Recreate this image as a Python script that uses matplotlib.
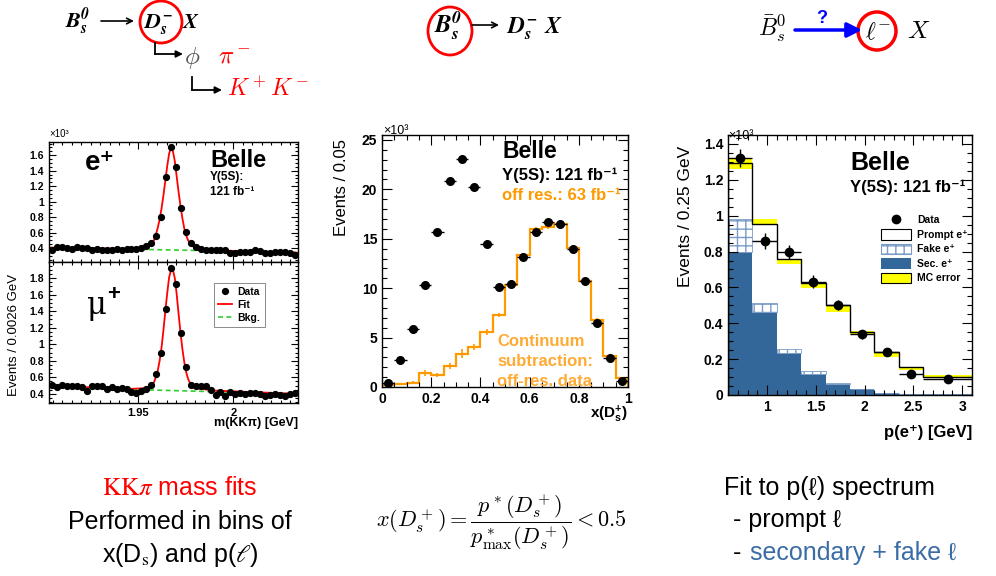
import numpy as np
import matplotlib
matplotlib.use('Agg')
from matplotlib import pyplot as plt
from matplotlib.patches import Ellipse, Patch
from matplotlib.lines import Line2D
from matplotlib.ticker import MultipleLocator, FormatStrFormatter

plt.rcParams['font.family'] = ['Liberation Sans', 'DejaVu Sans']
plt.rcParams['mathtext.fontset'] = 'custom'
plt.rcParams['mathtext.rm'] = 'Liberation Sans:bold'
plt.rcParams['mathtext.bf'] = 'Liberation Sans:bold'
plt.rcParams['mathtext.it'] = 'Liberation Sans:italic:bold'
plt.rcParams['axes.linewidth'] = 1.0

W, H = 996, 576

# ---- left: m(KKpi) fits, 0.0026 GeV bins, units of 10^3 events
m_first = 1.9048
m_step = 0.0026
e_data = [0.38, 0.41, 0.41, 0.40, 0.39, 0.42, 0.40, 0.40, 0.37, 0.39,
          0.37, 0.37, 0.38, 0.39, 0.38, 0.39, 0.39, 0.39, 0.40, 0.43,
          0.47, 0.55, 0.80, 1.32, 1.70, 1.45, 0.92, 0.61, 0.46, 0.42,
          0.39, 0.38, 0.38, 0.38, 0.37, 0.37, 0.34, 0.33, 0.35, 0.35,
          0.35, 0.37, 0.36, 0.33, 0.34, 0.35, 0.35, 0.35, 0.34, 0.31]
mu_data = [0.51, 0.48, 0.51, 0.49, 0.49, 0.50, 0.48, 0.44, 0.49, 0.50,
           0.49, 0.46, 0.48, 0.46, 0.47, 0.46, 0.42, 0.41, 0.43, 0.46,
           0.51, 0.64, 0.90, 1.43, 1.92, 1.73, 1.14, 0.73, 0.51, 0.49,
           0.49, 0.49, 0.45, 0.39, 0.42, 0.37, 0.42, 0.40, 0.41, 0.40,
           0.41, 0.41, 0.40, 0.37, 0.39, 0.40, 0.39, 0.37, 0.40, 0.41]
fit_x = [1.903, 1.945, 1.9542, 1.9562, 1.9572, 1.9582, 1.9592, 1.9602, 1.9612,
         1.9622, 1.9632, 1.9642, 1.9652, 1.9662, 1.9672, 1.9682, 1.9692, 1.9702,
         1.9712, 1.9722, 1.9732, 1.9742, 1.9752, 1.9762, 1.9772, 1.9782, 1.9802,
         1.990, 2.034]
e_fit = [0.405, 0.39, 0.41, 0.44, 0.46, 0.50, 0.57, 0.66, 0.77, 0.91, 1.08, 1.27,
         1.46, 1.62, 1.70, 1.65, 1.52, 1.32, 1.12, 0.94, 0.78, 0.65, 0.56, 0.50,
         0.46, 0.43, 0.40, 0.37, 0.34]
mu_fit = [0.50, 0.46, 0.47, 0.49, 0.51, 0.54, 0.60, 0.68, 0.80, 0.96, 1.17, 1.40,
          1.62, 1.81, 1.90, 1.90, 1.80, 1.60, 1.36, 1.14, 0.94, 0.78, 0.66, 0.58,
          0.53, 0.50, 0.47, 0.44, 0.40]
bkg_x = [1.903, 2.034]
e_bkg = [0.405, 0.345]
mu_bkg = [0.48, 0.40]

# ---- middle: x(Ds) spectrum, units of 10^3
xd_edges = np.linspace(0, 1, 21)
onres = [0.44, 2.77, 5.91, 10.34, 15.68, 20.84, 23.1, 20.2, 14.46, 10.1,
         10.4, 13.2, 15.7, 16.7, 16.45, 14.0, 10.7, 6.45, 2.94, 0.57]
offres = [0.17, 0.34, 0.44, 1.45, 1.18, 2.1, 3.38, 4.05, 5.6, 7.26,
          10.37, 13.4, 16.0, 16.2, 16.5, 14.1, 10.74, 6.76, 3.1, 0.95]
offres_err = [0.1, 0.1, 0.15, 0.3, 0.2, 0.3, 0.45, 0.3, 0.3, 0.2,
              0.2, 0.2, 0.2, 0.2, 0.2, 0.2, 0.2, 0.2, 0.15, 0.1]

# ---- right: p(e) spectrum, units of 10^3
p_edges = np.array([0.6, 0.85, 1.1, 1.35, 1.6, 1.85, 2.1, 2.35, 2.6, 3.1])
p_data = [1.32, 0.861, 0.796, 0.632, 0.502, 0.338, 0.238, 0.115, 0.087]
p_err = [0.05, 0.045, 0.04, 0.035, 0.03, 0.025, 0.02, 0.02, 0.015]
mc_total = [1.292, 0.952, 0.757, 0.627, 0.502, 0.35, 0.238, 0.154, 0.102]
mc_lo = [1.26, 0.948, 0.731, 0.595, 0.465, 0.335, 0.214, 0.139, 0.093]
mc_hi = [1.324, 0.98, 0.757, 0.632, 0.498, 0.357, 0.238, 0.158, 0.112]
sec = [0.80, 0.465, 0.232, 0.115, 0.063, 0.033, 0.010, 0.005, 0.003]
fake = [0.18, 0.046, 0.023, 0.02, 0.004, 0.003, 0.002, 0.001, 0.001]


def rect(x0, y0, x1, y1):
    return [x0 / W, 1 - y1 / H, (x1 - x0) / W, (y1 - y0) / H]


def root_style(ax, fs, major=6, minor=3):
    ax.tick_params(which='both', direction='in', top=True, right=True,
                   labelsize=fs, width=0.8)
    ax.tick_params(which='major', length=major)
    ax.tick_params(which='minor', length=minor)


fig = plt.figure(figsize=(W / 100, H / 100), dpi=100)

# left panels
mass_x = m_first + m_step * np.arange(len(e_data))
ax_e = fig.add_axes(rect(49, 142, 298, 262))
ax_mu = fig.add_axes(rect(49, 262, 298, 403), sharex=ax_e)
for ax, d, f, b, lim in [(ax_e, e_data, e_fit, e_bkg, (0.22, 1.77)),
                         (ax_mu, mu_data, mu_fit, mu_bkg, (0.29, 1.995))]:
    ax.plot(bkg_x, b, ls=(0, (3, 2)), color='#33cc33', lw=1.2)
    ax.plot(fit_x, f, color='red', lw=1.3)
    ax.plot(mass_x, d, 'o', color='black', ms=4.2)
    ax.set_ylim(*lim)
    ax.yaxis.set_major_locator(MultipleLocator(0.2))
    ax.yaxis.set_minor_locator(MultipleLocator(0.05))
    ax.yaxis.set_major_formatter(FormatStrFormatter('%g'))
    root_style(ax, 7.5, 5, 2.5)
ax_e.set_xlim(1.903, 2.034)
ax_e.xaxis.set_major_locator(MultipleLocator(0.05))
ax_e.xaxis.set_minor_locator(MultipleLocator(0.005))
ax_e.xaxis.set_major_formatter(FormatStrFormatter('%g'))
ax_e.tick_params(labelbottom=False)
ax_mu.tick_params(axis='x', labelsize=8)
leg1 = ax_mu.legend(handles=[Line2D([], [], marker='o', ls='none', color='black', ms=4.2),
                             Line2D([], [], color='red', lw=1.3),
                             Line2D([], [], color='#33cc33', lw=1.2, ls=(0, (3, 2)))],
                    labels=['Data', 'Fit', 'Bkg.'], loc='upper left',
                    bbox_to_anchor=(0.64, 0.89), prop={'weight': 'bold', 'size': 7.5},
                    fancybox=False, edgecolor='#555555', handlelength=1.4,
                    labelspacing=0.3, borderpad=0.4, handletextpad=0.5)
leg1.get_frame().set_linewidth(0.6)

# middle panel
ax2 = fig.add_axes(rect(382, 135, 628, 387))
xd_c = (xd_edges[:-1] + xd_edges[1:]) / 2
ax2.stairs(offres, xd_edges, color='#ff9900', lw=1.6)
ax2.errorbar(xd_c, offres, yerr=offres_err, fmt='none', ecolor='#ff9900', elinewidth=1.2)
ax2.errorbar(xd_c, onres, xerr=np.diff(xd_edges) / 2, fmt='o', color='black',
             ms=5.5, elinewidth=1.0)
ax2.set_xlim(0, 1)
ax2.set_ylim(0, 25.5)
ax2.xaxis.set_major_locator(MultipleLocator(0.2))
ax2.xaxis.set_minor_locator(MultipleLocator(0.05))
ax2.yaxis.set_major_locator(MultipleLocator(5))
ax2.yaxis.set_minor_locator(MultipleLocator(1))
ax2.xaxis.set_major_formatter(FormatStrFormatter('%g'))
root_style(ax2, 10, 7, 3.5)

# right panel
ax3 = fig.add_axes(rect(728, 135, 972, 395))
pc = (p_edges[:-1] + p_edges[1:]) / 2
pw = np.diff(p_edges)
ax3.bar(pc, sec, width=pw, color='#336699', lw=0)
ax3.bar(pc, fake, bottom=sec, width=pw, facecolor='white', edgecolor='#7a9cc6',
        hatch='++', lw=0.6)
ax3.bar(pc, np.array(mc_hi) - np.array(mc_lo), bottom=mc_lo, width=pw,
        color='#ffff00', lw=0)
ax3.stairs(mc_total, p_edges, color='black', lw=1.0)
ax3.errorbar(pc, p_data, xerr=pw / 2, yerr=p_err, fmt='o', color='black',
             ms=6, elinewidth=1.0)
ax3.set_xlim(0.6, 3.1)
ax3.set_ylim(0, 1.45)
ax3.xaxis.set_major_locator(MultipleLocator(0.5))
ax3.xaxis.set_minor_locator(MultipleLocator(0.1))
ax3.yaxis.set_major_locator(MultipleLocator(0.2))
ax3.yaxis.set_minor_locator(MultipleLocator(0.05))
ax3.xaxis.set_major_formatter(FormatStrFormatter('%g'))
ax3.yaxis.set_major_formatter(FormatStrFormatter('%g'))
root_style(ax3, 10, 7, 3.5)
ax3.legend(handles=[Line2D([], [], marker='o', ls='none', color='black', ms=6),
                    Patch(facecolor='white', edgecolor='black', lw=0.8),
                    Patch(facecolor='white', edgecolor='#7a9cc6', hatch='++', lw=0.8),
                    Patch(facecolor='#336699', lw=0),
                    Patch(facecolor='#ffff00', edgecolor='black', lw=0.8)],
           labels=['Data', 'Prompt e⁺', 'Fake e⁺', 'Sec. e⁺', 'MC error'],
           loc='upper left', bbox_to_anchor=(0.59, 0.73), frameon=False,
           prop={'weight': 'bold', 'size': 7.5}, handlelength=2.8,
           handleheight=1.2, labelspacing=0.35, handletextpad=0.6)

# ROOT-like bold tick numbers
for ax in [ax_e, ax_mu, ax2, ax3]:
    plt.setp(ax.get_xticklabels() + ax.get_yticklabels(), fontweight='bold')

# overlay in pixel coordinates for all the slide text
ov = fig.add_axes([0, 0, 1, 1], zorder=10)
ov.set_xlim(0, W)
ov.set_ylim(H, 0)
ov.axis('off')
B = dict(fontweight='bold')

# left panel labels
ov.text(49, 137, '×10³', fontsize=7, va='baseline')
ov.text(85, 163, 'e⁺', fontsize=20, va='center', **B)
ov.text(87, 314, 'μ', fontsize=22, family='DejaVu Serif', va='baseline')
ov.text(107, 300, '+', fontsize=16, va='baseline', **B)
ov.text(210, 167, 'Belle', fontsize=17, va='baseline', **B)
ov.text(210, 180, 'Υ(5S):', fontsize=8.5, va='baseline', **B)
ov.text(210, 195, '121 fb⁻¹', fontsize=8.5, va='baseline', **B)
ov.text(14, 335, 'Events / 0.0026 GeV', fontsize=9.5,
        rotation=90, ha='center', va='center')
ov.text(298, 423, 'm(KKπ) [GeV]', fontsize=9, ha='right', va='center', **B)

# middle panel labels
ov.text(383, 134, '×10³', fontsize=9, va='baseline')
ov.text(502, 152, 'Belle', fontsize=16.5, va='center', **B)
ov.text(502, 175, 'Υ(5S): 121 fb⁻¹', fontsize=12, va='center', **B)
ov.text(502, 195, 'off res.: 63 fb⁻¹', fontsize=12, va='center', color='#ff9900', **B)
ov.text(497, 341, 'Continuum', fontsize=12, va='center', color='#ffaa33', **B)
ov.text(497, 362, 'subtraction:', fontsize=12, va='center', color='#ffaa33', **B)
ov.text(497, 382, 'off-res. data', fontsize=12, va='center', color='#ffaa33', **B)
ov.text(342, 187, 'Events / 0.05', fontsize=12,
        rotation=90, ha='center', va='center')
ov.text(628, 414, r'x(D$_\mathbf{s}^\mathbf{+}$)', fontsize=11, ha='right', va='center', **B)

# right panel labels
ov.text(728, 139, '×10³', fontsize=9, va='baseline')
ov.text(850, 163, 'Belle', fontsize=18, va='center', **B)
ov.text(850, 187, 'Υ(5S): 121 fb⁻¹', fontsize=12, va='center', **B)
ov.text(685, 216, 'Events / 0.25 GeV', fontsize=12.5,
        rotation=90, ha='center', va='center')
ov.text(972, 432, 'p(e⁺) [GeV]', fontsize=12, ha='right', va='center', **B)

# decay headers
arrow = dict(arrowstyle='->', color='black', lw=1.2, mutation_scale=10,
             shrinkA=0, shrinkB=0)
ov.text(65, 28, r'$\mathbfit{B_s^0}$', fontsize=16, math_fontfamily='stix', va='baseline')
ov.annotate('', xy=(134, 21), xytext=(101, 21), arrowprops=arrow)
ov.text(143, 28, r'$\mathbfit{D_s^-}$', fontsize=16, math_fontfamily='stix', va='baseline')
ov.text(182, 28, r'$\mathbfit{X}$', fontsize=16, math_fontfamily='stix', va='baseline')
ov.add_patch(Ellipse((161, 22), 42, 42, fill=False, edgecolor='red', lw=2))
ov.plot([155, 155], [43, 54], color='black', lw=1.3)
ov.annotate('', xy=(183, 54), xytext=(155, 54),
            arrowprops=dict(arrowstyle='-|>', color='black', lw=1.3,
                            mutation_scale=10, shrinkA=0, shrinkB=0))
ov.text(184, 64, r'$\phi$', fontsize=18, color='#555555', math_fontfamily='cm', va='baseline')
ov.text(218, 63, r'$\pi^-$', fontsize=18, color='red', math_fontfamily='cm', va='baseline')
ov.plot([192, 192], [77, 90], color='black', lw=1.3)
ov.annotate('', xy=(222, 90), xytext=(192, 90),
            arrowprops=dict(arrowstyle='-|>', color='black', lw=1.3,
                            mutation_scale=10, shrinkA=0, shrinkB=0))
ov.text(227, 96, r'$K^+K^-$', fontsize=17, color='red', math_fontfamily='cm', va='baseline')

ov.text(434, 33, r'$\mathbfit{B_s^0}$', fontsize=18, math_fontfamily='stix', va='baseline')
ov.annotate('', xy=(499, 25), xytext=(472, 25), arrowprops=arrow)
ov.text(506, 33, r'$\mathbfit{D_s^-}$', fontsize=17, math_fontfamily='stix', va='baseline')
ov.text(544, 33, r'$\mathbfit{X}$', fontsize=17, math_fontfamily='stix', va='baseline')
ov.add_patch(Ellipse((450, 31), 44, 48, fill=False, edgecolor='red', lw=2))

ov.text(758, 36, r'$\bar{B}_s^0$', fontsize=17, math_fontfamily='cm', va='baseline')
ov.annotate('', xy=(862, 30), xytext=(795, 30),
            arrowprops=dict(arrowstyle='-|>', color='#0000ff', lw=2.5,
                            mutation_scale=22, shrinkA=0, shrinkB=0))
ov.text(822, 23, '?', fontsize=13, color='#0000ff', ha='center', va='baseline', **B)
ov.add_patch(Ellipse((877, 31), 38, 38, fill=False, edgecolor='red', lw=2.5))
ov.text(865, 39, r'$\ell^{\mathbf{-}}$', fontsize=17, math_fontfamily='cm', va='baseline')
ov.text(907, 38, r'$X$', fontsize=18, math_fontfamily='cm', va='baseline')

# bottom captions
ov.text(180, 488, r'$\mathrm{KK}\pi$ mass fits', color='red', fontsize=18,
        math_fontfamily='stix', ha='center', va='center')
ov.text(180, 522, 'Performed in bins of', fontsize=18, ha='center', va='center')
ov.text(180, 555, r'x(D$_\mathrm{s}$) and p($\ell$)', fontsize=18,
        math_fontfamily='stix', ha='center', va='center')
ov.text(501, 522, r'$x(D_s^+) = \dfrac{p^*(D_s^+)}{p^*_{\max}(D_s^+)} < 0.5$',
        fontsize=16, math_fontfamily='cm', ha='center', va='center')
ov.text(724, 488, 'Fit to p(ℓ) spectrum', fontsize=18, va='center')
ov.text(733, 520, '- prompt ℓ', fontsize=18, va='center')
ov.text(733, 553, '-', fontsize=18, va='center')
ov.text(750, 553, 'secondary + fake ℓ', fontsize=18, va='center', color='#3a6ca6')

fig.savefig('out.png', dpi=100)
